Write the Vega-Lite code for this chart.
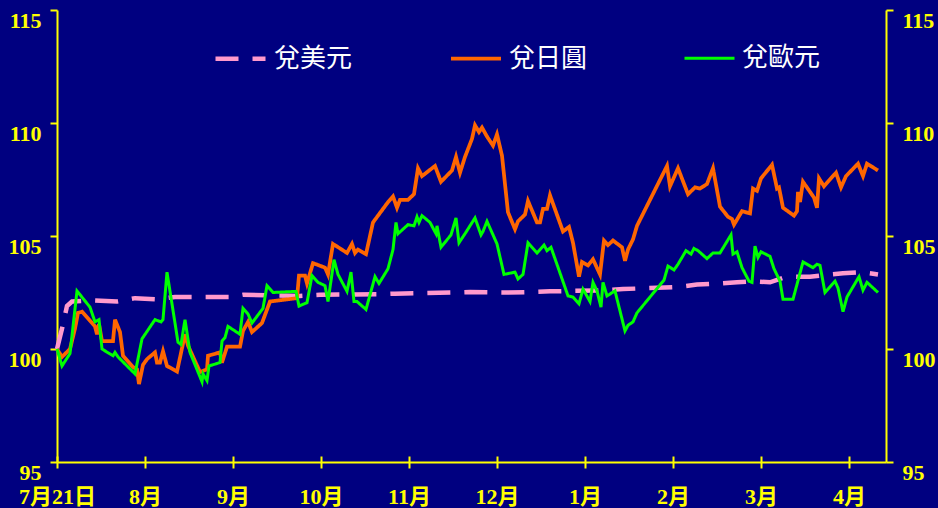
{
  "$schema": "https://vega.github.io/schema/vega-lite/v6.json",
  "width": 829,
  "height": 452,
  "autosize": "none",
  "padding": {"left": 57, "top": 10, "right": 52, "bottom": 46},
  "background": "#000080",
  "config": {
    "view": {"stroke": null},
    "axis": {
      "domainColor": "#FFFF00", "domainWidth": 2, "tickColor": "#FFFF00", "tickWidth": 2,
      "labelColor": "#FFFF00", "labelFont": "Liberation Serif, Noto Sans CJK TC", "labelFontSize": 22,
      "labelFontWeight": "bold", "grid": false, "title": null
    },
    "legend": {
      "padding": 0,
      "labelColor": "#FFFFFF", "labelFont": "Noto Sans CJK TC", "labelFontSize": 26, "labelFontWeight": "normal",
      "symbolType": "stroke", "symbolSize": 2500, "symbolStrokeWidth": 4, "labelOffset": 6, "columnPadding": 90
    }
  },
  "datasets": {
    "fx": [
      {"s":"兌美元","d":0,"v":100.0},{"s":"兌美元","d":1.25,"v":100.9},{"s":"兌美元","d":2.5,"v":101.9},{"s":"兌美元","d":3.75,"v":102.1},
      {"s":"兌美元","d":9.5,"v":102.15},{"s":"兌美元","d":15,"v":102.1},{"s":"兌美元","d":19.5,"v":102.25},{"s":"兌美元","d":25,"v":102.2},
      {"s":"兌美元","d":29.5,"v":102.3},{"s":"兌美元","d":43.25,"v":102.3},{"s":"兌美元","d":46.5,"v":102.4},{"s":"兌美元","d":60.75,"v":102.35},
      {"s":"兌美元","d":65.75,"v":102.4},{"s":"兌美元","d":80.75,"v":102.42},{"s":"兌美元","d":84.5,"v":102.45},{"s":"兌美元","d":100,"v":102.5},
      {"s":"兌美元","d":103.25,"v":102.52},{"s":"兌美元","d":112.5,"v":102.5},{"s":"兌美元","d":119,"v":102.52},{"s":"兌美元","d":123.25,"v":102.55},
      {"s":"兌美元","d":137.5,"v":102.6},{"s":"兌美元","d":141.5,"v":102.65},{"s":"兌美元","d":155.75,"v":102.75},{"s":"兌美元","d":160,"v":102.85},
      {"s":"兌美元","d":165.75,"v":102.9},{"s":"兌美元","d":170,"v":102.95},{"s":"兌美元","d":174,"v":103.0},{"s":"兌美元","d":178.25,"v":102.95},
      {"s":"兌美元","d":181.5,"v":103.15},{"s":"兌美元","d":184,"v":103.2},{"s":"兌美元","d":188.25,"v":103.2},{"s":"兌美元","d":193.25,"v":103.3},
      {"s":"兌美元","d":196.5,"v":103.35},{"s":"兌美元","d":201.5,"v":103.4},{"s":"兌美元","d":205.25,"v":103.3},

      {"s":"兌日圓","d":0,"v":100.0},{"s":"兌日圓","d":1.25,"v":99.65},{"s":"兌日圓","d":3.25,"v":100.0},{"s":"兌日圓","d":4.5,"v":100.9},
      {"s":"兌日圓","d":5.25,"v":101.6},{"s":"兌日圓","d":6.25,"v":101.65},{"s":"兌日圓","d":8.25,"v":101.25},{"s":"兌日圓","d":9.5,"v":101.0},
      {"s":"兌日圓","d":10,"v":100.65},{"s":"兌日圓","d":10.5,"v":101.1},{"s":"兌日圓","d":11.25,"v":100.35},{"s":"兌日圓","d":14,"v":100.35},
      {"s":"兌日圓","d":14.5,"v":101.3},{"s":"兌日圓","d":15.75,"v":100.75},{"s":"兌日圓","d":16.5,"v":99.7},{"s":"兌日圓","d":19,"v":99.2},
      {"s":"兌日圓","d":20,"v":99.1},{"s":"兌日圓","d":20.5,"v":98.45},{"s":"兌日圓","d":21.5,"v":99.3},{"s":"兌日圓","d":22.5,"v":99.55},
      {"s":"兌日圓","d":24.5,"v":99.85},{"s":"兌日圓","d":25,"v":99.4},{"s":"兌日圓","d":25.75,"v":99.4},{"s":"兌日圓","d":26.5,"v":99.9},
      {"s":"兌日圓","d":27.5,"v":99.25},{"s":"兌日圓","d":30,"v":99.0},{"s":"兌日圓","d":32,"v":100.65},{"s":"兌日圓","d":32.75,"v":100.15},
      {"s":"兌日圓","d":35.75,"v":98.98},{"s":"兌日圓","d":37.5,"v":99.1},{"s":"兌日圓","d":37.75,"v":99.7},{"s":"兌日圓","d":40.75,"v":99.85},
      {"s":"兌日圓","d":41.25,"v":99.4},{"s":"兌日圓","d":42.5,"v":100.1},{"s":"兌日圓","d":45.75,"v":100.1},{"s":"兌日圓","d":46.5,"v":100.8},
      {"s":"兌日圓","d":47.75,"v":101.2},{"s":"兌日圓","d":48.75,"v":100.75},{"s":"兌日圓","d":51.25,"v":101.15},{"s":"兌日圓","d":53.25,"v":102.1},
      {"s":"兌日圓","d":60,"v":102.25},{"s":"兌日圓","d":60.5,"v":103.25},{"s":"兌日圓","d":62,"v":103.25},{"s":"兌日圓","d":62.5,"v":102.9},
      {"s":"兌日圓","d":64,"v":103.8},{"s":"兌日圓","d":67,"v":103.6},{"s":"兌日圓","d":67.75,"v":103.3},{"s":"兌日圓","d":69,"v":104.65},
      {"s":"兌日圓","d":72.5,"v":104.25},{"s":"兌日圓","d":73.75,"v":104.65},{"s":"兌日圓","d":74.5,"v":104.25},{"s":"兌日圓","d":75.25,"v":104.4},
      {"s":"兌日圓","d":77.25,"v":104.2},{"s":"兌日圓","d":79,"v":105.6},{"s":"兌日圓","d":80.25,"v":105.9},{"s":"兌日圓","d":82.75,"v":106.5},
      {"s":"兌日圓","d":84,"v":106.75},{"s":"兌日圓","d":85,"v":106.25},{"s":"兌日圓","d":85.75,"v":106.6},{"s":"兌日圓","d":87.75,"v":106.6},
      {"s":"兌日圓","d":89.25,"v":106.85},{"s":"兌日圓","d":90.25,"v":108.0},{"s":"兌日圓","d":91.25,"v":107.65},{"s":"兌日圓","d":94.5,"v":108.1},
      {"s":"兌日圓","d":96,"v":107.4},{"s":"兌日圓","d":98.75,"v":107.9},{"s":"兌日圓","d":99.75,"v":108.5},{"s":"兌日圓","d":100.75,"v":107.8},
      {"s":"兌日圓","d":102,"v":108.5},{"s":"兌日圓","d":103.75,"v":109.3},{"s":"兌日圓","d":104.5,"v":109.9},{"s":"兌日圓","d":105.5,"v":109.6},
      {"s":"兌日圓","d":106.25,"v":109.8},{"s":"兌日圓","d":107.5,"v":109.4},{"s":"兌日圓","d":109,"v":109.0},{"s":"兌日圓","d":110,"v":109.5},
      {"s":"兌日圓","d":111.25,"v":108.55},{"s":"兌日圓","d":112.75,"v":106.05},{"s":"兌日圓","d":114.5,"v":105.3},{"s":"兌日圓","d":115.25,"v":105.65},
      {"s":"兌日圓","d":117,"v":105.95},{"s":"兌日圓","d":117.75,"v":106.55},{"s":"兌日圓","d":120,"v":105.6},{"s":"兌日圓","d":120.75,"v":105.6},
      {"s":"兌日圓","d":121.5,"v":106.2},{"s":"兌日圓","d":122.5,"v":106.2},{"s":"兌日圓","d":123.25,"v":106.8},{"s":"兌日圓","d":126.5,"v":105.2},
      {"s":"兌日圓","d":128,"v":105.4},{"s":"兌日圓","d":129,"v":104.7},{"s":"兌日圓","d":130.5,"v":103.2},{"s":"兌日圓","d":131.25,"v":103.85},
      {"s":"兌日圓","d":132.75,"v":103.7},{"s":"兌日圓","d":134,"v":103.97},{"s":"兌日圓","d":135.75,"v":103.3},{"s":"兌日圓","d":136.75,"v":104.8},
      {"s":"兌日圓","d":137.75,"v":104.6},{"s":"兌日圓","d":139,"v":104.8},{"s":"兌日圓","d":141.25,"v":104.5},{"s":"兌日圓","d":142,"v":103.9},
      {"s":"兌日圓","d":142.75,"v":104.4},{"s":"兌日圓","d":144,"v":104.85},{"s":"兌日圓","d":145,"v":105.45},{"s":"兌日圓","d":152.5,"v":108.1},
      {"s":"兌日圓","d":153.25,"v":107.2},{"s":"兌日圓","d":155.25,"v":108.0},{"s":"兌日圓","d":157.75,"v":106.85},{"s":"兌日圓","d":159.5,"v":107.15},
      {"s":"兌日圓","d":160.75,"v":107.1},{"s":"兌日圓","d":162.5,"v":107.3},{"s":"兌日圓","d":164,"v":108.0},{"s":"兌日圓","d":165.75,"v":106.3},
      {"s":"兌日圓","d":167.75,"v":105.85},{"s":"兌日圓","d":168.75,"v":105.75},{"s":"兌日圓","d":169.25,"v":105.5},{"s":"兌日圓","d":171.25,"v":106.1},
      {"s":"兌日圓","d":173.25,"v":106.0},{"s":"兌日圓","d":174,"v":107.1},{"s":"兌日圓","d":175,"v":107.0},{"s":"兌日圓","d":176,"v":107.55},
      {"s":"兌日圓","d":178.75,"v":108.15},{"s":"兌日圓","d":180,"v":107.1},{"s":"兌日圓","d":180.5,"v":107.15},{"s":"兌日圓","d":181.5,"v":106.25},
      {"s":"兌日圓","d":184.25,"v":105.9},{"s":"兌日圓","d":185,"v":106.1},{"s":"兌日圓","d":185.25,"v":106.95},{"s":"兌日圓","d":185.75,"v":106.5},
      {"s":"兌日圓","d":186.5,"v":107.4},{"s":"兌日圓","d":189.25,"v":106.7},{"s":"兌日圓","d":190,"v":106.25},{"s":"兌日圓","d":190.5,"v":107.55},
      {"s":"兌日圓","d":191.75,"v":107.2},{"s":"兌日圓","d":194.75,"v":107.8},{"s":"兌日圓","d":196,"v":107.15},{"s":"兌日圓","d":197.25,"v":107.65},
      {"s":"兌日圓","d":200.25,"v":108.2},{"s":"兌日圓","d":201.5,"v":107.65},{"s":"兌日圓","d":202.5,"v":108.2},{"s":"兌日圓","d":205.25,"v":107.9},

      {"s":"兌歐元","d":0,"v":100.0},{"s":"兌歐元","d":1.25,"v":99.25},{"s":"兌歐元","d":3.25,"v":99.8},{"s":"兌歐元","d":5,"v":102.57},
      {"s":"兌歐元","d":8.25,"v":101.85},{"s":"兌歐元","d":9.5,"v":101.2},{"s":"兌歐元","d":10.5,"v":101.3},{"s":"兌歐元","d":11.25,"v":100.0},
      {"s":"兌歐元","d":14,"v":99.7},{"s":"兌歐元","d":14.5,"v":99.85},{"s":"兌歐元","d":15.25,"v":99.65},{"s":"兌歐元","d":19.5,"v":98.9},
      {"s":"兌歐元","d":21.25,"v":100.45},{"s":"兌歐元","d":24.5,"v":101.3},{"s":"兌歐元","d":26,"v":101.2},{"s":"兌歐元","d":26.5,"v":101.3},
      {"s":"兌歐元","d":27.5,"v":103.4},{"s":"兌歐元","d":30.25,"v":100.3},{"s":"兌歐元","d":31,"v":100.2},{"s":"兌歐元","d":32,"v":101.3},
      {"s":"兌歐元","d":33.25,"v":99.85},{"s":"兌歐元","d":36.25,"v":98.55},{"s":"兌歐元","d":36.5,"v":98.9},{"s":"兌歐元","d":37.5,"v":98.6},
      {"s":"兌歐元","d":38,"v":99.25},{"s":"兌歐元","d":40.75,"v":99.4},{"s":"兌歐元","d":41.25,"v":100.35},{"s":"兌歐元","d":42,"v":100.5},
      {"s":"兌歐元","d":42.75,"v":101.0},{"s":"兌歐元","d":45.75,"v":100.65},{"s":"兌歐元","d":46.5,"v":101.8},{"s":"兌歐元","d":47.75,"v":101.55},
      {"s":"兌歐元","d":48.75,"v":101.15},{"s":"兌歐元","d":51.5,"v":101.8},{"s":"兌歐元","d":52.5,"v":102.8},{"s":"兌歐元","d":54,"v":102.5},
      {"s":"兌歐元","d":59.75,"v":102.55},{"s":"兌歐元","d":60.5,"v":101.9},{"s":"兌歐元","d":62.5,"v":102.05},{"s":"兌歐元","d":63.75,"v":103.25},
      {"s":"兌歐元","d":65.25,"v":102.95},{"s":"兌歐元","d":67,"v":102.8},{"s":"兌歐元","d":67.75,"v":102.1},{"s":"兌歐元","d":69.25,"v":103.95},
      {"s":"兌歐元","d":70.25,"v":103.3},{"s":"兌歐元","d":72.5,"v":102.55},{"s":"兌歐元","d":73.5,"v":103.4},{"s":"兌歐元","d":74.25,"v":102.1},
      {"s":"兌歐元","d":75,"v":102.1},{"s":"兌歐元","d":77.25,"v":101.75},{"s":"兌歐元","d":79.5,"v":103.2},{"s":"兌歐元","d":80.5,"v":102.9},
      {"s":"兌歐元","d":82.75,"v":103.55},{"s":"兌歐元","d":84,"v":104.4},{"s":"兌歐元","d":84.75,"v":105.6},{"s":"兌歐元","d":85.25,"v":105.1},
      {"s":"兌歐元","d":87.75,"v":105.5},{"s":"兌歐元","d":89.25,"v":105.45},{"s":"兌歐元","d":90,"v":105.85},{"s":"兌歐元","d":90.5,"v":105.6},
      {"s":"兌歐元","d":91.25,"v":105.9},{"s":"兌歐元","d":93.25,"v":105.6},{"s":"兌歐元","d":94.75,"v":105.1},{"s":"兌歐元","d":95,"v":105.45},
      {"s":"兌歐元","d":96,"v":104.5},{"s":"兌歐元","d":98.5,"v":105.05},{"s":"兌歐元","d":99.75,"v":105.8},{"s":"兌歐元","d":100.5,"v":104.7},
      {"s":"兌歐元","d":102,"v":105.1},{"s":"兌歐元","d":104.5,"v":105.8},{"s":"兌歐元","d":106,"v":105.05},{"s":"兌歐元","d":106.5,"v":105.2},
      {"s":"兌歐元","d":107.5,"v":105.65},{"s":"兌歐元","d":110,"v":104.65},{"s":"兌歐元","d":111.75,"v":103.3},{"s":"兌歐元","d":114.5,"v":103.4},
      {"s":"兌歐元","d":115.25,"v":103.1},{"s":"兌歐元","d":116.5,"v":103.3},{"s":"兌歐元","d":117.75,"v":104.7},{"s":"兌歐元","d":120,"v":104.25},
      {"s":"兌歐元","d":121.75,"v":104.6},{"s":"兌歐元","d":122.5,"v":104.35},{"s":"兌歐元","d":123.5,"v":104.5},{"s":"兌歐元","d":127.75,"v":102.35},
      {"s":"兌歐元","d":129,"v":102.3},{"s":"兌歐元","d":130.5,"v":102.0},{"s":"兌歐元","d":131.5,"v":102.65},{"s":"兌歐元","d":133.25,"v":102.1},
      {"s":"兌歐元","d":134,"v":102.95},{"s":"兌歐元","d":135,"v":102.57},{"s":"兌歐元","d":136,"v":101.85},{"s":"兌歐元","d":136.5,"v":102.95},
      {"s":"兌歐元","d":137.5,"v":102.35},{"s":"兌歐元","d":139.5,"v":102.57},{"s":"兌歐元","d":142,"v":100.8},{"s":"兌歐元","d":142.75,"v":101.05},
      {"s":"兌歐元","d":144,"v":101.2},{"s":"兌歐元","d":145,"v":101.6},{"s":"兌歐元","d":151.75,"v":103.05},{"s":"兌歐元","d":152.75,"v":103.67},
      {"s":"兌歐元","d":154.25,"v":103.5},{"s":"兌歐元","d":155.25,"v":103.75},{"s":"兌歐元","d":157.25,"v":104.35},{"s":"兌歐元","d":158.5,"v":104.2},
      {"s":"兌歐元","d":159.25,"v":104.45},{"s":"兌歐元","d":160.25,"v":104.35},{"s":"兌歐元","d":162.5,"v":104.0},{"s":"兌歐元","d":164,"v":104.25},
      {"s":"兌歐元","d":165.75,"v":104.25},{"s":"兌歐元","d":168.5,"v":105.05},{"s":"兌歐元","d":169,"v":104.2},{"s":"兌歐元","d":170,"v":104.3},
      {"s":"兌歐元","d":171.25,"v":103.6},{"s":"兌歐元","d":173,"v":103.0},{"s":"兌歐元","d":173.75,"v":102.95},{"s":"兌歐元","d":174.5,"v":104.55},
      {"s":"兌歐元","d":175.25,"v":104.05},{"s":"兌歐元","d":176,"v":104.3},{"s":"兌歐元","d":178.25,"v":104.1},{"s":"兌歐元","d":179.25,"v":103.55},
      {"s":"兌歐元","d":180.75,"v":103.0},{"s":"兌歐元","d":181.5,"v":102.2},{"s":"兌歐元","d":184,"v":102.2},{"s":"兌歐元","d":186.5,"v":103.85},
      {"s":"兌歐元","d":189,"v":103.6},{"s":"兌歐元","d":190,"v":103.75},{"s":"兌歐元","d":190.75,"v":103.7},{"s":"兌歐元","d":192,"v":102.5},
      {"s":"兌歐元","d":194.5,"v":103.0},{"s":"兌歐元","d":195.25,"v":102.7},{"s":"兌歐元","d":196.5,"v":101.65},{"s":"兌歐元","d":197.5,"v":102.3},
      {"s":"兌歐元","d":200.5,"v":103.2},{"s":"兌歐元","d":201.5,"v":102.6},{"s":"兌歐元","d":202.5,"v":102.95},{"s":"兌歐元","d":205.25,"v":102.5}
    ]
  },
  "layer": [
    {
      "data": {"name": "fx"},
      "mark": {"type": "line"},
      "encoding": {
        "x": {
          "field": "d", "type": "quantitative",
          "scale": {"domain": [0, 207.25], "nice": false, "zero": false},
          "axis": {
            "orient": "bottom",
            "values": [0, 22, 44, 66, 88, 110, 132, 154, 176, 198],
            "labelExpr": "['7月21日','8月','9月','10月','11月','12月','1月','2月','3月','4月'][round(datum.value/22)]",
            "tickSize": 6, "labelPadding": 18, "labelFlush": false, "labelOverlap": false
          }
        },
        "y": {
          "field": "v", "type": "quantitative",
          "scale": {"domain": [95, 115], "nice": false, "zero": false},
          "axis": {"orient": "left", "values": [95, 100, 105, 110, 115], "tickSize": 7, "labelPadding": 9, "labelBaseline": "top", "labelFlush": false}
        },
        "color": {
          "field": "s", "type": "nominal", "title": null,
          "scale": {"domain": ["兌美元", "兌日圓", "兌歐元"], "range": ["#FF99CC", "#FF6600", "#00FF00"]},
          "legend": {"orient": "none", "legendX": 156, "legendY": 21, "direction": "horizontal", "title": null}
        },
        "strokeDash": {
          "field": "s", "type": "nominal", "title": null,
          "scale": {"domain": ["兌美元", "兌日圓", "兌歐元"], "range": [[23, 14], [1, 0], [1, 0]]},
          "legend": {"orient": "none", "legendX": 156, "legendY": 21, "direction": "horizontal", "title": null}
        },
        "strokeWidth": {
          "field": "s", "type": "nominal", "legend": null,
          "scale": {"domain": ["兌美元", "兌日圓", "兌歐元"], "range": [4.5, 3, 3]}
        }
      }
    },
    {
      "mark": {"type": "rule", "color": "#FFFFFF", "strokeWidth": 2},
      "encoding": {
        "y": {
          "datum": 100, "type": "quantitative",
          "axis": {"orient": "right", "values": [95, 100, 105, 110, 115], "tickSize": 7, "labelPadding": 9, "labelBaseline": "top", "labelFlush": false}
        }
      }
    },
    {
      "mark": {"type": "text", "text": "", "opacity": 0},
      "encoding": {
        "x": {
          "datum": 0, "type": "quantitative",
          "axis": {"orient": "bottom", "values": [0, 22, 44, 66, 88, 110, 132, 154, 176, 198], "tickSize": 6, "offset": -6, "domain": false, "labels": false}
        },
        "y": {"datum": 100, "type": "quantitative", "axis": null}
      }
    }
  ],
  "resolve": {"axis": {"x": "independent", "y": "independent"}}
}
